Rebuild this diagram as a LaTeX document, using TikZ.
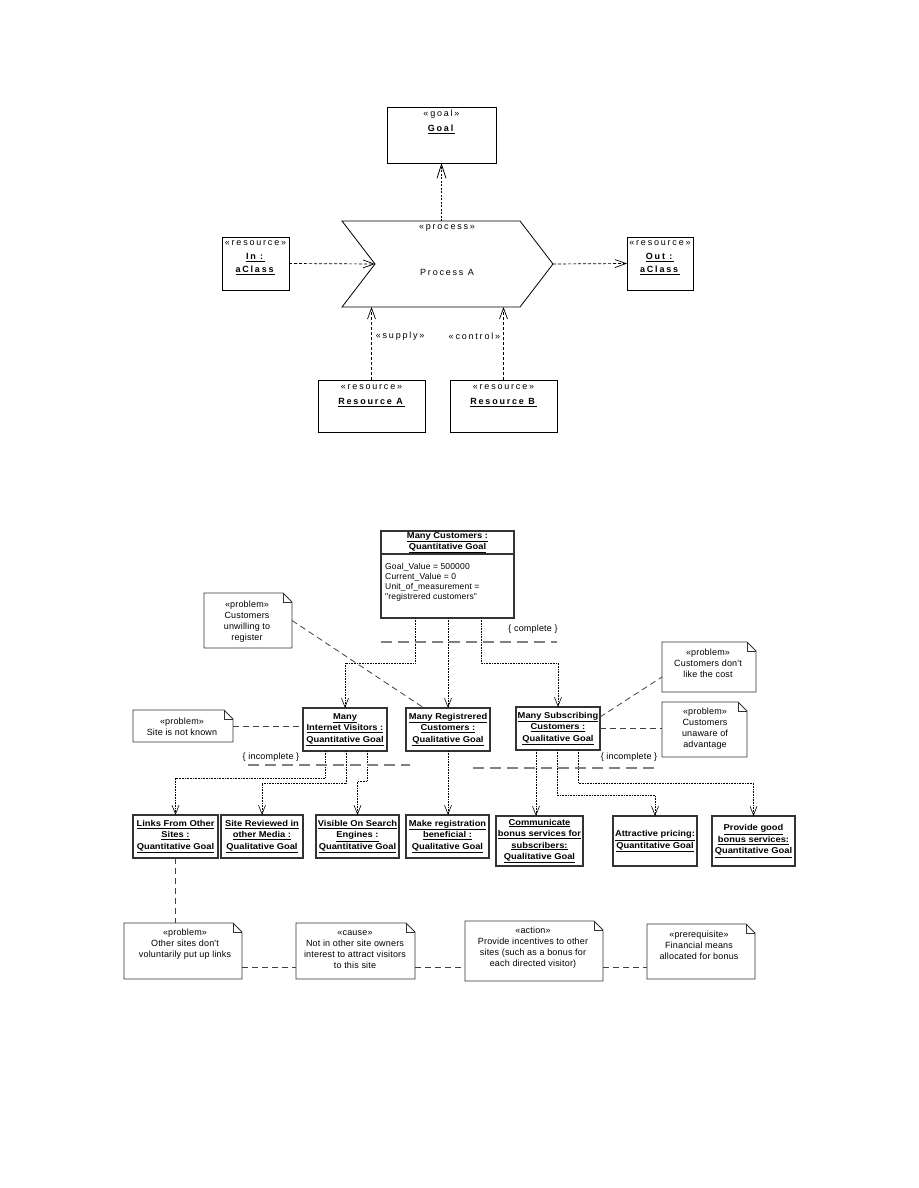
\documentclass[tikz,border=0pt]{standalone}
\usepackage{fontspec}
\setmainfont{Liberation Sans}
\newfontfamily\tfont[LetterSpace=20]{Liberation Sans}
\newfontfamily\bfont[FakeStretch=1.1]{Liberation Sans}
\newfontfamily\nfont[LetterSpace=2]{Liberation Sans}
\usetikzlibrary{calc,arrows.meta}
\newcommand\ubf[1]{\underline{\textbf{#1}}}
\newcommand\rbox[6][]{\node[#1,minimum width={#5-#3},minimum height={#6-#4}] (#2) at ({(#3+#5)/2},{(#4+#6)/2}) {};}
\newcommand\noteoutline[1]{%
  \draw[nline] (#1.north west) -- ($(#1.north east)+(-9,0)$) -- ($(#1.north east)+(0,9)$) -- (#1.south east) -- (#1.south west) -- cycle;
  \draw[nline] ($(#1.north east)+(-9,0)$) |- ($(#1.north east)+(0,9)$);}
\begin{document}
\begin{tikzpicture}[x=1pt,y=-1pt,
 tbox/.style={draw=black,line width=0.8pt,inner sep=0pt,outer sep=0pt},
 pbox/.style={inner sep=0pt,outer sep=0pt},
 pline/.style={draw=black,line width=0.8pt,line join=miter},
 ttxt/.style={align=center,inner sep=0pt,font=\tfont\fontsize{9}{14}\selectfont},
 tarr/.style={draw=black,line width=0.7pt,dash pattern=on 3pt off 2pt,-{Straight Barb[length=11pt,width=8pt]}},
 garr/.style={draw=black,line width=1.5pt,dash pattern=on 2pt off 1.5pt,-{Straight Barb[length=14pt,width=9pt,line width=0.8pt]}},
 bbox/.style={draw=black!80,line width=1.1pt,inner sep=0pt,outer sep=0pt,align=center,font=\bfont\fontsize{8.5}{11.5}\selectfont},
 btitle/.style={align=center,inner sep=0pt,font=\bfont\fontsize{8.5}{11}\selectfont},
 atxt/.style={align=left,inner sep=0pt,font=\nfont\fontsize{8.5}{10}\selectfont},
 nbox/.style={inner sep=0pt,outer sep=0pt},
 nline/.style={draw=black!80,line width=0.9pt},
 ntxt/.style={align=center,inner sep=0pt,font=\nfont\fontsize{9}{11}\selectfont},
 barr/.style={draw=black,line width=0.6pt,densely dotted,-{Straight Barb[length=9pt,width=7pt]}},
 ndash/.style={draw=black!75,line width=0.8pt,dash pattern=on 6pt off 4pt},
 gdash/.style={draw=black!50,line width=1.4pt,dash pattern=on 11pt off 6pt},
 ctxt/.style={inner sep=0pt,font=\nfont\fontsize{9}{11}\selectfont},
]
\useasboundingbox (0,0) rectangle (918,1188);

%% ---------------- top diagram ----------------
\rbox[tbox]{goal}{387}{107}{496}{163}
\rbox[tbox]{inc}{222}{237}{289}{290}
\rbox[tbox]{outc}{627}{237}{693}{290}
\rbox[tbox]{ra}{318}{380}{425}{432}
\rbox[tbox]{rb}{450}{380}{557}{432}
\node[pbox,minimum width=211,minimum height=86] (proc) at (447.5,264) {};
\draw[pline] (proc.north west) -- ($(proc.north east)+(-33,0)$) -- (proc.east)
  -- ($(proc.south east)+(-33,0)$) -- (proc.south west) -- ($(proc.west)+(33,0)$) -- cycle;

\node[ttxt,font=\tfont\fontsize{9}{15}\selectfont] (goalt) at (441.5,122) {«goal»\\\ubf{Goal}};
\node[ttxt,font=\tfont\fontsize{9}{13.5}\selectfont] (inct) at (255.5,258) {«resource»\\\ubf{In :}\\\ubf{aClass}};
\node[ttxt,font=\tfont\fontsize{9}{13.5}\selectfont] (outct) at (660,258) {«resource»\\\ubf{Out :}\\\ubf{aClass}};
\node[ttxt,font=\tfont\fontsize{9}{15}\selectfont] (rat) at (371.5,395.5) {«resource»\\\ubf{Resource A}};
\node[ttxt,font=\tfont\fontsize{9}{15}\selectfont] (rbt) at (503.5,395.5) {«resource»\\\ubf{Resource B}};
\node[ttxt] (procst) at (447,228) {«process»};
\node[ttxt] (proct) at (447,272) {Process A};

\draw[tarr] (inc.east) -- ($(proc.west)+(33,0)$);
\draw[tarr] (proc.east) -- (outc.west);
\draw[garr] (proc.north -| goal.south) -- (goal.south);
\draw[tarr] (ra.north) -- (ra.north |- proc.south)
  node[ttxt,pos=0.6,anchor=west,xshift=4pt] (lsup) {«supply»};
\draw[tarr] (rb.north) -- (rb.north |- proc.south)
  node[ttxt,pos=0.6,anchor=east,xshift=-3pt] (lctl) {«control»};

%% ---------------- bottom diagram ----------------
% main goal
\rbox[bbox]{mc}{381}{531}{514}{618}
\draw[draw=black!80,line width=1.1pt] ($(mc.north west)+(0,23)$) -- ($(mc.north east)+(0,23)$);
\node[btitle] (mct) at (447.5,542.5) {\ubf{Many Customers :}\\\ubf{Quantitative Goal}};
\node[atxt,anchor=west] (mca) at (385,582.5) {Goal\_Value = 500000\\Current\_Value = 0\\Unit\_of\_measurement =\\"registrered customers"};

% second level
\node[bbox,minimum width=84,minimum height=43] (miv) at (345,729.5) {\ubf{Many}\\\ubf{Internet Visitors :}\\\ubf{Quantitative Goal}};
\node[bbox,minimum width=84,minimum height=43] (mrc) at (448,729.5) {\ubf{Many Registrered}\\\ubf{Customers :}\\\ubf{Qualitative Goal}};
\node[bbox,minimum width=84,minimum height=43] (msc) at (558,728.5) {\ubf{Many Subscribing}\\\ubf{Customers :}\\\ubf{Qualitative Goal}};

% third level
\node[bbox,minimum width=85,minimum height=43] (links) at (175.5,836.5) {\ubf{Links From Other}\\\ubf{Sites :}\\\ubf{Quantitative Goal}};
\node[bbox,minimum width=82,minimum height=43] (sr) at (262,836.5) {\ubf{Site Reviewed in}\\\ubf{other Media :}\\\ubf{Qualitative Goal}};
\node[bbox,minimum width=83,minimum height=43] (vis) at (357.5,836.5) {\ubf{Visible On Search}\\\ubf{Engines :}\\\ubf{Quantitative Goal}};
\node[bbox,minimum width=83,minimum height=43] (mrb) at (447.5,836.5) {\ubf{Make registration}\\\ubf{beneficial :}\\\ubf{Qualitative Goal}};
\node[bbox,minimum width=87,minimum height=50] (com) at (539.5,841) {\ubf{Communicate}\\\ubf{bonus services for}\\\ubf{subscribers:}\\\ubf{Qualitative Goal}};
\node[bbox,minimum width=84,minimum height=50] (att) at (655,841) {\ubf{Attractive pricing:}\\\ubf{Quantitative Goal}};
\node[bbox,minimum width=83,minimum height=50] (prov) at (753.5,841) {\ubf{Provide good}\\\ubf{bonus services:}\\\ubf{Quantitative Goal}};

% notes
\rbox[nbox]{n1}{204}{593}{292}{648}
\rbox[nbox]{n2}{662}{642}{756}{692}
\rbox[nbox]{n3}{662}{702}{747}{757}
\rbox[nbox]{n4}{133}{710}{233}{742}
\rbox[nbox]{b1}{124}{923}{242}{979}
\rbox[nbox]{b2}{296}{923}{415}{979}
\rbox[nbox]{b3}{465}{921}{603}{981}
\rbox[nbox]{b4}{647}{924}{755}{979}
\noteoutline{n1}\noteoutline{n2}\noteoutline{n3}\noteoutline{n4}
\noteoutline{b1}\noteoutline{b2}\noteoutline{b3}\noteoutline{b4}
\node[ntxt] (n1t) at (247,621.5) {«problem»\\Customers\\unwilling to\\register};
\node[ntxt] (n2t) at (708,663) {«problem»\\Customers don't\\like the cost};
\node[ntxt] (n3t) at (705,729) {«problem»\\Customers\\unaware of\\advantage};
\node[ntxt] (n4t) at (182,726.5) {«problem»\\Site is not known};
\node[ntxt] (b1t) at (185,944) {«problem»\\Other sites don't\\voluntarily put up links};
\node[ntxt] (b2t) at (355,950) {«cause»\\Not in other site owners\\interest to attract visitors\\to this site};
\node[ntxt] (b3t) at (533,947.5) {«action»\\Provide incentives to other\\sites (such as a bonus for\\each directed visitor)};
\node[ntxt] (b4t) at (699,945) {«prerequisite»\\Financial means\\allocated for bonus};

% routing points
\coordinate (j1) at (415,663);
\coordinate (j2) at (481,663);
\coordinate (j3) at (325,778);
\coordinate (j4) at (346,783);
\coordinate (j5) at (367,781);
\coordinate (j6) at (536,790);
\coordinate (j7) at (557,795);
\coordinate (j8) at (578,783);

% dotted arrows
\draw[barr] (mc.south -| j1) -- (j1) -| (miv.north);
\draw[barr] (mc.south -| mrc.north) -- (mrc.north);
\draw[barr] (mc.south -| j2) -- (j2) -| (msc.north);
\draw[barr] (miv.south -| j3) -- (j3) -| (links.north);
\draw[barr] (miv.south -| j4) -- (j4) -| (sr.north);
\draw[barr] (miv.south -| j5) -- (j5) -| (vis.north);
\draw[barr] (mrc.south) -- (mrc.south |- mrb.north);
\draw[barr] (msc.south -| j6) -- (j6 |- com.north);
\draw[barr] (msc.south -| j7) -- (j7) -| (att.north);
\draw[barr] (msc.south -| j8) -- (j8) -| (prov.north);

% constraint lines
\coordinate (c1a) at (381,642); \coordinate (c1b) at (557,642);
\coordinate (c2a) at (248,765); \coordinate (c2b) at (410,765);
\coordinate (c3a) at (473,768); \coordinate (c3b) at (655,768);
\draw[gdash] (c1a) -- (c1b);
\draw[gdash] (c2a) -- (c2b);
\draw[gdash] (c3a) -- (c3b);
\node[ctxt] (lcomp) at (533,629) {\{ complete \}};
\node[ctxt] (linc1) at (271,757) {\{ incomplete \}};
\node[ctxt] (linc2) at (629,757) {\{ incomplete \}};

% note links
\draw[ndash] (n1.east) -- ($(mrc.north west)+(18,0)$);
\draw[ndash] ($(msc.north east)+(0,10)$) -- ($(n2.south west)+(0,-15)$);
\draw[ndash] (msc.east) -- (msc.east -| n3.west);
\draw[ndash] (n4.east) -- (n4.east -| miv.west);
\draw[ndash] (links.south) -- (links.south |- b1.north);
\draw[ndash] ($(b1.south east)+(0,-12)$) coordinate (k1) -- (k1 -| b2.west);
\draw[ndash] ($(b2.south east)+(0,-12)$) coordinate (k2) -- (k2 -| b3.west);
\draw[ndash] ($(b3.south east)+(0,-14)$) coordinate (k3) -- (k3 -| b4.west);
\end{tikzpicture}
\end{document}
